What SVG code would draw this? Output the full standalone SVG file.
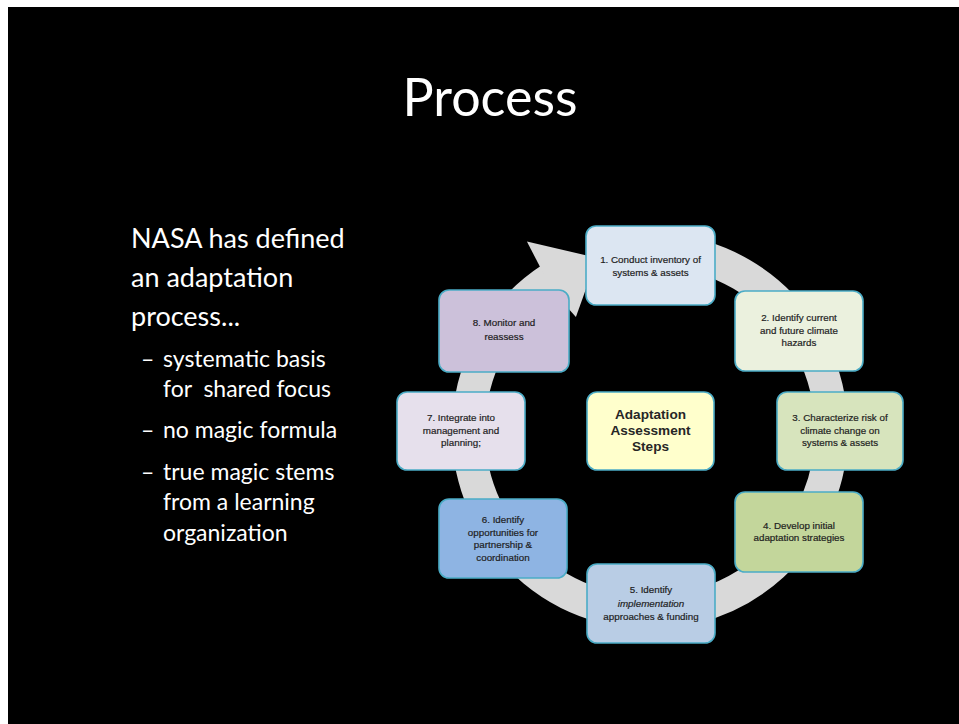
<svg xmlns="http://www.w3.org/2000/svg" width="959" height="724" viewBox="0 0 959 724">
  <style>
    .title { font-family: Lato, "Liberation Sans", sans-serif; font-size: 52px; fill: #ffffff; }
    .body { font-family: Lato, "Liberation Sans", sans-serif; font-size: 27px; fill: #ffffff; }
    .sub { font-family: Lato, "Liberation Sans", sans-serif; font-size: 23px; fill: #ffffff; }
    .box { stroke: #4bacc6; stroke-width: 1.6; }
    .lbl { font-family: "Liberation Sans", Arial, sans-serif; font-size: 9.8px; fill: #1e1e1e; stroke: #1e1e1e; stroke-width: 0.2; text-anchor: middle; }
    .ctr { font-family: "Liberation Sans", Arial, sans-serif; font-size: 13.6px; font-weight: bold; fill: #262626; text-anchor: middle; }
    .ring { fill: none; stroke: #d9d9d9; stroke-width: 33; }
  </style>

  <!-- page -->
  <rect x="0" y="0" width="959" height="724" fill="#ffffff"/>
  <rect x="8" y="7" width="951" height="717" fill="#000000"/>

  <text class="title" x="490" y="116" text-anchor="middle">Process</text>

  <!-- left-hand text -->
  <g id="bullets">
    <text class="body" x="131" y="248">NASA has defined</text>
    <text class="body" x="131" y="287">an adaptation</text>
    <text class="body" x="131" y="326">process...</text>
    <text class="sub" x="141" y="367">–</text>
    <text class="sub" x="163" y="367">systematic basis</text>
    <text class="sub" x="163" y="397" xml:space="preserve">for  shared focus</text>
    <text class="sub" x="141" y="438">–</text>
    <text class="sub" x="163" y="438">no magic formula</text>
    <text class="sub" x="141" y="480">–</text>
    <text class="sub" x="163" y="480">true magic stems</text>
    <text class="sub" x="163" y="510">from a learning</text>
    <text class="sub" x="163" y="541">organization</text>
  </g>

  <!-- circular process arrow -->
  <g id="connectors">
    <path class="ring" d="M551.15,278.78 A181.5,181.5 0 1 0 665.82,250.19"/>
    <polygon fill="#d9d9d9" points="526.9,241.5 597.1,257.9 575.9,316.9 552,290"/>
  </g>

  <g id="step1">
    <rect class="box" x="586" y="226" width="129" height="79" rx="10" fill="#dce6f2"/>
    <text class="lbl" x="650.5" y="263">1. Conduct inventory of</text>
    <text class="lbl" x="650.5" y="276">systems &amp; assets</text>
  </g>

  <g id="step2">
    <rect class="box" x="735" y="291" width="128" height="80" rx="10" fill="#ebf1de"/>
    <text class="lbl" x="799" y="321">2. Identify current</text>
    <text class="lbl" x="799" y="334">and future climate</text>
    <text class="lbl" x="799" y="346">hazards</text>
  </g>

  <g id="step3">
    <rect class="box" x="777" y="392" width="126" height="78" rx="10" fill="#d7e4bd"/>
    <text class="lbl" x="840" y="421">3. Characterize risk of</text>
    <text class="lbl" x="840" y="434">climate change on</text>
    <text class="lbl" x="840" y="446">systems &amp; assets</text>
  </g>

  <g id="step4">
    <rect class="box" x="735" y="492" width="128" height="80" rx="10" fill="#c3d69b"/>
    <text class="lbl" x="799" y="529">4. Develop initial</text>
    <text class="lbl" x="799" y="541">adaptation strategies</text>
  </g>

  <g id="step5">
    <rect class="box" x="587" y="564" width="128" height="79" rx="10" fill="#b9cde5"/>
    <text class="lbl" x="651" y="593">5. Identify</text>
    <text class="lbl" x="651" y="607" font-style="italic">implementation</text>
    <text class="lbl" x="651" y="620">approaches &amp; funding</text>
  </g>

  <g id="step6">
    <rect class="box" x="439" y="499" width="128" height="79" rx="10" fill="#8eb4e3"/>
    <text class="lbl" x="503" y="523">6. Identify</text>
    <text class="lbl" x="503" y="536">opportunities for</text>
    <text class="lbl" x="503" y="548">partnership &amp;</text>
    <text class="lbl" x="503" y="561">coordination</text>
  </g>

  <g id="step7">
    <rect class="box" x="397" y="392" width="128" height="78" rx="10" fill="#e6e0ec"/>
    <text class="lbl" x="461" y="421">7. Integrate into</text>
    <text class="lbl" x="461" y="434">management and</text>
    <text class="lbl" x="461" y="446">planning;</text>
  </g>

  <g id="step8">
    <rect class="box" x="439" y="290" width="130" height="82" rx="10" fill="#ccc1da"/>
    <text class="lbl" x="504" y="326">8. Monitor and</text>
    <text class="lbl" x="504" y="340">reassess</text>
  </g>

  <g id="center">
    <rect class="box" x="587" y="392" width="127" height="78" rx="10" fill="#ffffcc"/>
    <text class="ctr" x="650.5" y="419">Adaptation</text>
    <text class="ctr" x="650.5" y="435">Assessment</text>
    <text class="ctr" x="650.5" y="451">Steps</text>
  </g>
</svg>
